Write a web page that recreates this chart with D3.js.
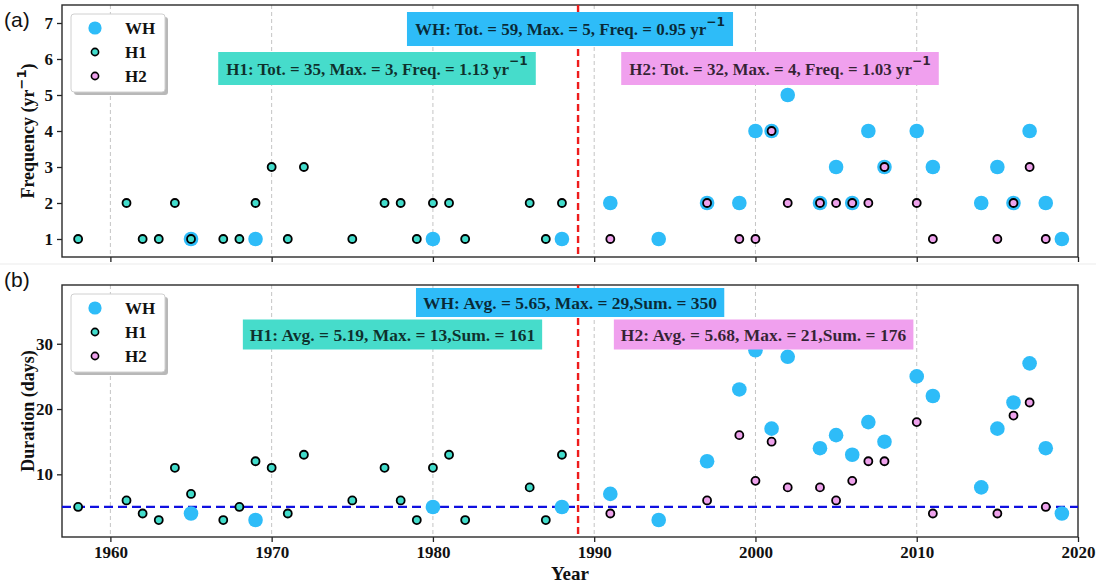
<!DOCTYPE html>
<html>
<head>
<meta charset="utf-8">
<script src="https://cdn.jsdelivr.net/npm/d3@7"></script>
<style>
  html, body { margin: 0; padding: 0; background: #fff; }
  svg { display: block; }
</style>
</head>
<body>
<svg id="chart" width="1096" height="588"></svg>
<script>
// ---- data ----
const whYears = [1965,1969,1980,1988,1991,1994,1997,1999,2000,2001,2002,2004,2005,2006,2007,2008,2010,2011,2014,2015,2016,2017,2018,2019];
const whFreq  = [1,1,1,1,2,1,2,2,4,4,5,2,3,2,4,3,4,3,2,3,2,4,2,1];
const whDur   = [4,3,5,5,7,3,12,23,29,17,28,14,16,13,18,15,25,22,8,17,21,27,14,4];

const h1Years = [1958,1961,1962,1963,1964,1965,1967,1968,1969,1970,1971,1972,1975,1977,1978,1979,1980,1981,1982,1986,1987,1988];
const h1Freq  = [1,2,1,1,2,1,1,1,2,3,1,3,1,2,2,1,2,2,1,2,1,2];
const h1Dur   = [5,6,4,3,11,7,3,5,12,11,4,13,6,11,6,3,11,13,3,8,3,13];

const h2Years = [1991,1997,1999,2000,2001,2002,2004,2005,2006,2007,2008,2010,2011,2015,2016,2017,2018];
const h2Freq  = [1,2,1,1,4,2,2,2,2,2,3,2,1,1,2,3,1];
const h2Dur   = [4,6,16,9,15,8,8,6,9,12,12,18,4,4,19,21,5];

const xTicks = [1960,1970,1980,1990,2000,2010,2020];
const freqTicks = [1,2,3,4,5,6,7];
const durTicks = [10,20,30];
const breakYear = 1989;
const durThreshold = 5;

const freqNotes = [
  {key: "WH", text: "WH: Tot. = 59, Max. = 5, Freq. = 0.95 yr", sup: "\u22121"},
  {key: "H1", text: "H1: Tot. = 35, Max. = 3, Freq. = 1.13 yr", sup: "\u22121"},
  {key: "H2", text: "H2: Tot. = 32, Max. = 4, Freq. = 1.03 yr", sup: "\u22121"}
];
const durNotes = [
  {key: "WH", text: "WH: Avg. = 5.65, Max. = 29,Sum. = 350"},
  {key: "H1", text: "H1: Avg. = 5.19, Max. = 13,Sum. = 161"},
  {key: "H2", text: "H2: Avg. = 5.68, Max. = 21,Sum. = 176"}
];

// ---- styling ----
const colors = {WH: "#2ebcf8", H1: "#42dccb", H2: "#eea2ec"};
const boxColors = {WH: "#2ebcf8", H1: "#46dccb", H2: "#f0a0ee"};
const serif = "'Liberation Serif', 'Times New Roman', serif";

const svg = d3.select("#chart");
const L = 62, R = 1078;
const x = d3.scaleLinear().domain([1957, 2020]).range([L, R]);

// faint divider between the two panels
svg.append("line").attr("x1", 0).attr("x2", 1096).attr("y1", 264).attr("y2", 264)
  .attr("stroke", "#ebebeb").attr("stroke-width", 1);

function series(years, vals) { return years.map((yr, i) => ({year: yr, v: vals[i]})); }

function drawPanel(opts) {
  const {top, bottom, y, yTicks, showXLabels, label, labelY, ylab, ylabSup, ylabTail,
         wh, h1, h2, notes, noteLayout, legendTop, threshold} = opts;
  const g = svg.append("g");

  // vertical dashed grid
  g.selectAll("line.grid").data(xTicks.filter(t => t < 2020)).join("line")
    .attr("x1", d => x(d)).attr("x2", d => x(d))
    .attr("y1", top).attr("y2", bottom)
    .attr("stroke", "#c4c4c4").attr("stroke-width", 1).attr("stroke-dasharray", "4,3");

  // axes
  const xAxis = d3.axisBottom(x).tickValues(xTicks).tickSize(5).tickPadding(4)
    .tickFormat(showXLabels ? d3.format("d") : () => "");
  const gx = g.append("g").attr("transform", `translate(0,${bottom})`).call(xAxis);
  const yAxis = d3.axisLeft(y).tickValues(yTicks).tickSize(5).tickPadding(4).tickFormat(d3.format("d"));
  const gy = g.append("g").attr("transform", `translate(${L},0)`).call(yAxis);
  [gx, gy].forEach(a => {
    a.select(".domain").remove();
    a.selectAll(".tick line").attr("stroke", "#222").attr("stroke-width", 1.3);
    a.selectAll(".tick text").attr("font-family", serif).attr("font-weight", "bold")
      .attr("font-size", 17).attr("fill", "#111");
  });

  // frame
  g.append("rect").attr("x", L).attr("y", top).attr("width", R - L).attr("height", bottom - top)
    .attr("fill", "none").attr("stroke", "#2a2a2a").attr("stroke-width", 1.4);

  // threshold line
  if (threshold !== undefined) {
    g.append("line").attr("x1", L).attr("x2", R).attr("y1", y(threshold)).attr("y2", y(threshold))
      .attr("stroke", "#1010e0").attr("stroke-width", 2.2).attr("stroke-dasharray", "9,5");
  }
  // break year
  g.append("line").attr("x1", x(breakYear)).attr("x2", x(breakYear)).attr("y1", top).attr("y2", bottom)
    .attr("stroke", "#ee1c1c").attr("stroke-width", 2.4).attr("stroke-dasharray", "7,4");

  // points
  g.selectAll("circle.wh").data(wh).join("circle")
    .attr("cx", d => x(d.year)).attr("cy", d => y(d.v)).attr("r", 7.3).attr("fill", colors.WH);
  g.selectAll("circle.h1").data(h1).join("circle")
    .attr("cx", d => x(d.year)).attr("cy", d => y(d.v)).attr("r", 4)
    .attr("fill", colors.H1).attr("stroke", "#000").attr("stroke-width", 1.8);
  g.selectAll("circle.h2").data(h2).join("circle")
    .attr("cx", d => x(d.year)).attr("cy", d => y(d.v)).attr("r", 4)
    .attr("fill", colors.H2).attr("stroke", "#000").attr("stroke-width", 1.8);

  // summary boxes
  notes.forEach(n => {
    const lay = noteLayout[n.key];
    const ng = g.append("g");
    const rect = ng.append("rect");
    const t = ng.append("text").attr("x", lay.cx).attr("y", lay.y + lay.h / 2)
      .attr("text-anchor", "middle").attr("dominant-baseline", "central")
      .attr("font-family", serif).attr("font-weight", "bold").attr("font-size", lay.fs)
      .attr("fill", "#000").attr("fill-opacity", 0.78);
    t.append("tspan").text(n.text);
    if (n.sup) {
      t.append("tspan").attr("dy", -lay.fs * 0.42).attr("font-size", lay.fs * 0.72)
        .attr("font-family", "'DejaVu Sans', sans-serif").text(n.sup);
    }
    const bb = t.node().getBBox();
    rect.attr("x", bb.x - lay.pad).attr("width", bb.width + 2 * lay.pad)
      .attr("y", lay.y).attr("height", lay.h).attr("fill", boxColors[n.key]);
  });

  // legend
  const lg = g.append("g").attr("transform", `translate(71,${legendTop})`);
  lg.append("rect").attr("x", 3).attr("y", 3).attr("width", 94).attr("height", 78).attr("rx", 3)
    .attr("fill", "#b8b8b8");
  lg.append("rect").attr("x", 0).attr("y", 0).attr("width", 94).attr("height", 78).attr("rx", 3)
    .attr("fill", "#fff").attr("stroke", "#d0d0d0").attr("stroke-width", 1);
  const items = [
    {name: "WH", r: 6.6, fill: colors.WH, stroke: "none"},
    {name: "H1", r: 3.6, fill: colors.H1, stroke: "#000"},
    {name: "H2", r: 3.6, fill: colors.H2, stroke: "#000"}
  ];
  items.forEach((it, i) => {
    const cy = 14 + i * 24;
    lg.append("circle").attr("cx", 24).attr("cy", cy).attr("r", it.r).attr("fill", it.fill)
      .attr("stroke", it.stroke).attr("stroke-width", 1.6);
    lg.append("text").attr("x", 54).attr("y", cy).attr("dominant-baseline", "central")
      .attr("font-family", serif).attr("font-weight", "bold").attr("font-size", 17)
      .attr("fill", "#111").text(it.name);
  });

  // y label
  const yl = g.append("text")
    .attr("transform", `translate(28,${(top + bottom) / 2}) rotate(-90)`)
    .attr("text-anchor", "middle").attr("dominant-baseline", "central")
    .attr("font-family", serif).attr("font-weight", "bold").attr("font-size", 18).attr("fill", "#111");
  yl.append("tspan").text(ylab);
  if (ylabSup) {
    yl.append("tspan").attr("dy", -7).attr("font-size", 13)
      .attr("font-family", "'DejaVu Sans', sans-serif").text(ylabSup);
    yl.append("tspan").attr("dy", 7).text(ylabTail);
  }

  // panel tag
  svg.append("text").attr("x", 4).attr("y", labelY)
    .attr("font-family", "'Liberation Sans', Arial, sans-serif").attr("font-size", 21)
    .attr("fill", "#111").text(label);
}

drawPanel({
  top: 5, bottom: 257,
  y: d3.scaleLinear().domain([0.5, 7.5]).range([257, 5]),
  yTicks: freqTicks, showXLabels: false, label: "(a)", labelY: 27,
  ylab: "Frequency (yr", ylabSup: "\u22121", ylabTail: ")",
  wh: series(whYears, whFreq), h1: series(h1Years, h1Freq), h2: series(h2Years, h2Freq),
  notes: freqNotes,
  noteLayout: {
    WH: {cx: 570, y: 12, h: 34, fs: 17, pad: 8},
    H1: {cx: 377, y: 52, h: 33, fs: 17, pad: 8},
    H2: {cx: 780, y: 52, h: 33, fs: 17, pad: 8}
  },
  legendTop: 14
});

drawPanel({
  top: 285, bottom: 537,
  y: d3.scaleLinear().domain([0.4, 39]).range([537, 285]),
  yTicks: durTicks, showXLabels: true, label: "(b)", labelY: 287,
  ylab: "Duration (days)",
  wh: series(whYears, whDur), h1: series(h1Years, h1Dur), h2: series(h2Years, h2Dur),
  notes: durNotes,
  noteLayout: {
    WH: {cx: 570, y: 288, h: 29, fs: 17.5, pad: 7},
    H1: {cx: 392.5, y: 319.5, h: 30, fs: 17.5, pad: 7},
    H2: {cx: 763.5, y: 319.5, h: 30, fs: 17.5, pad: 7}
  },
  legendTop: 294,
  threshold: durThreshold
});

// x axis title
svg.append("text").attr("x", (L + R) / 2).attr("y", 580).attr("text-anchor", "middle")
  .attr("font-family", serif).attr("font-weight", "bold").attr("font-size", 19)
  .attr("fill", "#111").text("Year");
</script>
</body>
</html>
